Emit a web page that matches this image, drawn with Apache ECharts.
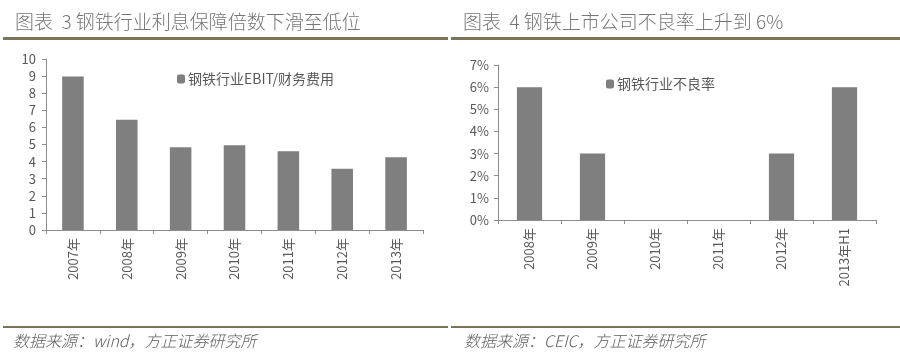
<!DOCTYPE html>
<html><head><meta charset="utf-8">
<script src="https://cdn.jsdelivr.net/npm/echarts@6/dist/echarts.min.js"></script>
<style>html,body{margin:0;padding:0;background:#fff}#c{width:900px;height:357px}</style>
</head><body><div id="c"></div>
<script>
const leftCategories = ['2007年','2008年','2009年','2010年','2011年','2012年','2013年'];
const leftValues = [8.97, 6.45, 4.84, 4.95, 4.6, 3.58, 4.25];
const leftSeriesName = '钢铁行业EBIT/财务费用';
const rightCategories = ['2008年','2009年','2010年','2011年','2012年','2013年H1'];
const rightValues = [6, 3, 0, 0, 3, 6];
const rightSeriesName = '钢铁行业不良率';
const leftTitle = '图表  3 钢铁行业利息保障倍数下滑至低位';
const rightTitle = '图表  4 钢铁上市公司不良率上升到 6%';
const leftSource = '数据来源：wind，方正证券研究所';
const rightSource = '数据来源：CEIC，方正证券研究所';

const chart = echarts.init(document.getElementById('c'), null, {renderer:'canvas'});
const font = '"Noto Sans CJK SC", "Open Sans", sans-serif';
const axisColor = '#8c8c8c';
const labelColor = '#595959';
const barColor = '#7f7f7f';
const lineColor = '#7d7357';

function xAxisCfg(cats, gi){
  return {type:'category', gridIndex:gi, data:cats, boundaryGap:true,
    axisLine:{lineStyle:{color:axisColor, width:1}},
    axisTick:{show:true, length:4, lineStyle:{color:axisColor}, alignWithLabel:false},
    axisLabel:{rotate:90, color:labelColor, fontSize:13, fontFamily:font, margin:8}};
}
chart.setOption({
  animation:false,
  textStyle:{fontFamily:font},
  grid:[
    {left:46, right:477, top:59, bottom:127},
    {left:498, right:24, top:65, bottom:137}
  ],
  legend:[
    {data:[leftSeriesName], left:172, top:67, itemWidth:8, itemHeight:9, itemGap:4,
     textStyle:{color:labelColor, fontSize:14, fontFamily:font, padding:[0,0,0,-2]}},
    {data:[rightSeriesName], left:601, top:72, itemWidth:8, itemHeight:9,
     textStyle:{color:labelColor, fontSize:14, fontFamily:font, padding:[0,0,0,-2]}}
  ],
  xAxis:[xAxisCfg(leftCategories,0), xAxisCfg(rightCategories,1)],
  yAxis:[
    {type:'value', gridIndex:0, min:0, max:10, interval:1,
     axisLine:{show:true, lineStyle:{color:axisColor}},
     axisTick:{show:true, length:4, lineStyle:{color:axisColor}},
     splitLine:{show:false},
     axisLabel:{color:labelColor, fontSize:13, fontFamily:font, margin:10}},
    {type:'value', gridIndex:1, min:0, max:7, interval:1,
     axisLine:{show:true, lineStyle:{color:axisColor}},
     axisTick:{show:true, length:4, lineStyle:{color:axisColor}},
     splitLine:{show:false},
     axisLabel:{color:labelColor, fontSize:13, fontFamily:font, margin:9, formatter:'{value}%'}}
  ],
  series:[
    {name:leftSeriesName, type:'bar', xAxisIndex:0, yAxisIndex:0, data:leftValues,
     barWidth:'40%', itemStyle:{color:barColor}},
    {name:rightSeriesName, type:'bar', xAxisIndex:1, yAxisIndex:1, data:rightValues,
     barWidth:'40%', itemStyle:{color:barColor}}
  ],
  graphic:[
    {type:'text', left:15, top:12, style:{text:leftTitle, fill:'#767676', font:'300 19px "Noto Sans CJK SC"'}},
    {type:'text', left:463, top:12, style:{text:rightTitle, fill:'#767676', font:'300 19px "Noto Sans CJK SC"'}},
    {type:'rect', shape:{x:3, y:37, width:445, height:3}, style:{fill:lineColor}},
    {type:'rect', shape:{x:451, y:37, width:449, height:3}, style:{fill:lineColor}},
    {type:'rect', shape:{x:3, y:326, width:445, height:2}, style:{fill:lineColor}},
    {type:'rect', shape:{x:451, y:326, width:449, height:2}, style:{fill:lineColor}},
    {type:'text', left:13, top:333, style:{text:leftSource, fill:'#5f5f5f', font:'italic 300 16px "Noto Sans CJK SC"'}},
    {type:'text', left:464, top:333, style:{text:rightSource, fill:'#5f5f5f', font:'italic 300 16px "Noto Sans CJK SC"'}}
  ]
});
</script></body></html>
